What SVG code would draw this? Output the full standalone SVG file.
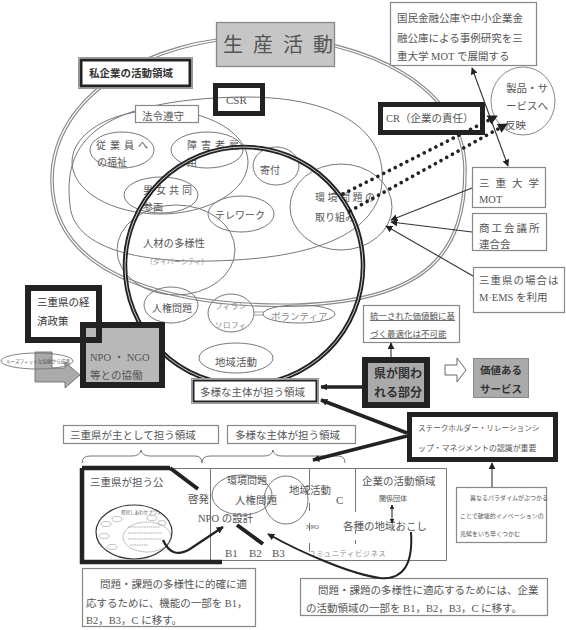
<svg xmlns="http://www.w3.org/2000/svg" width="566" height="630" viewBox="0 0 566 630">
<defs>
<style>
.t{font-family:"Liberation Serif","Noto Sans CJK JP",sans-serif;fill:#555;font-size:10.5px}
.d{fill:#333}
.b{font-weight:bold}
.g{fill:#888}
.box{fill:#fff;stroke:#888;stroke-width:1.2}
.thk{fill:#fff;stroke:#222;stroke-width:5}
.el{fill:none;stroke:#777;stroke-width:1}
.ln{fill:none;stroke:#333;stroke-width:1.1}
.hv{fill:none;stroke:#222;stroke-width:3.5}
.dot{fill:none;stroke:#222;stroke-width:3.6;stroke-dasharray:0.1 6.4;stroke-linecap:round}
</style>
<marker id="ah" viewBox="0 0 10 10" refX="9" refY="5" markerWidth="7" markerHeight="7" markerUnits="userSpaceOnUse" orient="auto-start-reverse"><path d="M0,0 L10,5 L0,10 Z" fill="#222"/></marker>
<marker id="ahd" viewBox="0 0 10 10" refX="9" refY="5" markerWidth="10" markerHeight="10" markerUnits="userSpaceOnUse" orient="auto"><path d="M0,0 L10,5 L0,10 Z" fill="#222"/></marker>
<marker id="ahb" viewBox="0 0 10 10" refX="9" refY="5" markerWidth="4" markerHeight="4" orient="auto-start-reverse"><path d="M0,0 L10,5 L0,10 Z" fill="#222"/></marker>
</defs>
<rect width="566" height="630" fill="#fff"/>

<g id="regions">
<path d="M52,180 C52,95 150,38 258,37 C370,37 465,90 465,170 C465,250 430,300 300,305 C180,308 52,280 52,180 Z" fill="none" stroke="#888" stroke-width="3.6"/>
<path d="M52,180 C52,95 150,38 258,37 C370,37 465,90 465,170 C465,250 430,300 300,305 C180,308 52,280 52,180 Z" fill="none" stroke="#fff" stroke-width="1.3"/>
<path class="el" d="M70,205 C62,140 100,100 240,97 C330,96 378,125 382,170 C386,215 350,248 260,258 C160,268 74,255 70,205 Z"/>
<ellipse class="el" cx="160" cy="162" rx="88" ry="52"/>
</g>

<g id="n-welfare"><ellipse class="el" cx="122" cy="150" rx="32" ry="18"/><text class="t" x="96" y="149" letter-spacing="4" style="font-size:10px">従業員へ</text><text class="t" x="97" y="166" style="font-size:10px">の福祉</text></g>
<g id="n-disabled"><ellipse class="el" cx="207" cy="150" rx="36" ry="18"/><text class="t" x="187" y="149" letter-spacing="4" style="font-size:10px">障害者雇</text><text class="t" x="187" y="166" style="font-size:10px">用</text></g>
<g id="n-donation"><ellipse class="el" cx="276" cy="166" rx="23" ry="19"/><text class="t" x="260" y="174" style="font-size:10px">寄付</text></g>
<g id="n-gender"><ellipse class="el" cx="161" cy="195" rx="37" ry="18"/><text class="t" x="143" y="194" letter-spacing="3" style="font-size:10px">男女共同</text><text class="t" x="143" y="211" style="font-size:10px">参画</text></g>
<g id="n-telework"><ellipse class="el" cx="241" cy="214" rx="33" ry="18"/><text class="t" x="215" y="219" style="font-size:10px">テレワーク</text></g>
<g id="n-env"><ellipse class="el" cx="341" cy="207" rx="51" ry="43"/><text class="t" x="315" y="201" letter-spacing="2.5" style="font-size:10px">環境問題の</text><text class="t" x="315" y="221" style="font-size:10px">取り組み</text></g>
<g id="n-diversity"><ellipse class="el" cx="176" cy="250" rx="59" ry="45"/><text class="t" x="143" y="247" style="font-size:10.3px">人材の多様性</text><text class="t g" x="146" y="264" style="font-size:7px">（ダイバーシティ）</text></g>
<g id="n-human"><ellipse class="el" cx="171" cy="305" rx="27" ry="18"/><text class="t" x="152" y="312" style="font-size:10px">人権問題</text></g>
<g id="n-phil"><ellipse class="el" cx="231" cy="313" rx="23" ry="19"/><text class="t g" x="215" y="309" letter-spacing="0.5" style="font-size:7.5px">フィラン</text><text class="t g" x="215" y="328" letter-spacing="0.5" style="font-size:7.5px">ソロフィ</text></g>
<g id="n-vol"><path d="M253,312 L264,312 M253,315 L264,315" stroke="#888" stroke-width="0.8"/><ellipse class="el" cx="299" cy="314" rx="36" ry="9"/><text class="t g" x="271" y="320" style="font-size:9.5px">ボランティア</text></g>
<g id="n-local"><ellipse class="el" cx="236" cy="358" rx="37" ry="15"/><text class="t" x="215" y="366">地域活動</text></g>

<g id="n-circle">
<circle cx="244" cy="266" r="119" fill="none" stroke="#222" stroke-width="4.5"/>
<circle cx="244" cy="266" r="119" fill="none" stroke="#ccc" stroke-width="1"/>
</g>

<g id="n-production"><rect x="216.5" y="22.5" width="118" height="44" fill="#c6c6c6" stroke="#888" stroke-width="1.3"/><text class="t" x="223" y="52" letter-spacing="10" style="font-size:20px">生産活動</text></g>
<g id="n-private"><rect x="78.5" y="57.5" width="114" height="31" fill="#fff" stroke="#999" stroke-width="1"/><rect x="81" y="60" width="109" height="26" fill="none" stroke="#222" stroke-width="3"/><text class="t d b" x="89" y="77">私企業の活動領域</text></g>
<g id="n-csr"><rect x="215.5" y="85.5" width="47" height="28" fill="none" stroke="#222" stroke-width="5"/><text class="t" x="226" y="104" style="font-size:11px">CSR</text></g>
<g id="n-law"><rect x="135.5" y="105.5" width="63" height="17" class="box"/><text class="t" x="142" y="120">法令遵守</text></g>

<g id="n-kokumin"><rect x="390.5" y="2.5" width="146" height="63" class="box"/><text class="t" x="397" y="22">国民金融公庫や中小企業金</text><text class="t" x="397" y="42">融公庫による事例研究を三</text><text class="t" x="397" y="60">重大学 MOT で展開する</text></g>
<g id="n-product"><ellipse cx="523" cy="101" rx="32" ry="34" fill="#fff" stroke="#888" stroke-width="1"/><text class="t" x="506" y="92">製品・サ</text><text class="t" x="506" y="110">ービスへ</text><text class="t" x="505" y="129">反映</text></g>
<g id="n-cr"><rect x="380.5" y="104.5" width="102" height="28" class="thk"/><text class="t" x="386" y="122">CR（企業の責任）</text></g>
<g id="n-mot"><rect x="472.5" y="167.5" width="73" height="40" class="box"/><text class="t" x="479" y="187" letter-spacing="6">三重大学</text><text class="t" x="479" y="203">MOT</text></g>
<g id="n-shoko"><rect x="472.5" y="213.5" width="74" height="37" class="box"/><text class="t" x="479" y="232" letter-spacing="2">商工会議所</text><text class="t" x="479" y="248">連合会</text></g>
<g id="n-mems"><rect x="473.5" y="267.5" width="91" height="45" class="box"/><text class="t" x="479" y="284" letter-spacing="1">三重県の場合は</text><text class="t" x="479" y="301">M·EMS を利用</text></g>

<g id="n-unified"><rect x="363.5" y="305.5" width="96" height="37" class="box"/><text class="t" x="370" y="319" text-decoration="underline" style="font-size:8.5px">統一された価値観に基</text><text class="t" x="370" y="337" text-decoration="underline" style="font-size:8.5px">づく最適化は不可能</text></g>
<g id="n-pref"><rect x="365" y="360" width="62" height="45" fill="#aaa" stroke="#222" stroke-width="6"/><text class="t d b" x="374" y="378" style="font-size:12px">県が関わ</text><text class="t d b" x="374" y="397" style="font-size:12px">れる部分</text></g>
<g id="n-hollow"><path d="M445,365 L457,365 L457,358 L466,370 L457,382 L457,375 L445,375 Z" fill="#fff" stroke="#666" stroke-width="1"/></g>
<g id="n-value"><rect x="473.5" y="358.5" width="55" height="39" fill="#aaa" stroke="#888" stroke-width="1"/><text class="t d b" x="480" y="374">価値ある</text><text class="t d b" x="480" y="393">サービス</text></g>
<g id="n-stake"><rect x="409.5" y="414.5" width="146" height="45" class="thk"/><text class="t" x="418" y="431" style="font-size:7.6px">ステークホルダー・リレーションシ</text><text class="t" x="418" y="451" style="font-size:7.9px">ップ・マネジメントの認識が重要</text></g>
<g id="n-paradigm"><rect x="456.5" y="487.5" width="90" height="55" class="box"/><text class="t" x="470" y="500" style="font-size:6px">異なるパラダイムがぶつかる</text><text class="t" x="460" y="518" style="font-size:6px">ことで破壊的イノベーションの</text><text class="t" x="460" y="536" style="font-size:6px">兆候をいち早くつかむ</text></g>

<g id="n-miepolicy"><rect x="28" y="288" width="71" height="52" fill="#fff" stroke="#222" stroke-width="6"/></g>
<g id="n-npo"><rect x="83" y="325" width="79" height="60" fill="#b8b8b8" stroke="#222" stroke-width="6"/><rect x="28" y="288" width="71" height="52" fill="none" stroke="#222" stroke-width="6"/><text class="t d" x="37" y="306">三重県の経</text><text class="t d" x="37" y="325">済政策</text><text class="t" x="90" y="361">NPO ・ NGO</text><text class="t" x="90" y="379">等との協働</text></g>
<g id="n-loose"><path d="M35,352 L52,352 L52,368 L65,368 L65,362 L80,375 L65,388 L65,382 L35,382 Z" fill="#aaa" stroke="#666" stroke-width="0.8"/><ellipse cx="37" cy="361" rx="36" ry="8" fill="none" stroke="#777" stroke-width="0.9"/><text class="t" x="6" y="363" style="font-size:4.6px">ルーズフィットな協働から成果</text></g>
<g id="n-diverse1"><rect x="191.5" y="378.5" width="127" height="25" fill="#fff" stroke="#999" stroke-width="1"/><rect x="193.5" y="380.5" width="123" height="21" fill="none" stroke="#222" stroke-width="2"/><text class="t" x="200" y="396">多様な主体が担う領域</text></g>

<g id="n-mielabel"><rect x="63.5" y="425.5" width="155" height="18" class="box"/><text class="t" x="70" y="439">三重県が主として担う領域</text></g>
<g id="n-diverse2"><rect x="227.5" y="425.5" width="128" height="18" class="box"/><text class="t" x="235" y="439">多様な主体が担う領域</text></g>
<g id="braces">
<path d="M82,463 Q82,456 90,456 L132,456 Q140,456 141,450 Q142,456 150,456 L195,456 Q202,456 202,463" fill="none" stroke="#777" stroke-width="1"/>
<path d="M202,463 Q202,456 210,456 L264,456 Q272,456 273,450 Q274,456 282,456 L338,456 Q345,456 345,463" fill="none" stroke="#777" stroke-width="1"/>
</g>

<g id="n-table">
<path d="M170,468.5 L446.5,468.5 L446.5,560.5 L220,560.5" fill="none" stroke="#777" stroke-width="1"/>
<path d="M210.5,468 L210.5,560" stroke="#777" stroke-width="1"/>
<path d="M309.5,468 L309.5,490" stroke="#777" stroke-width="1"/>
<path d="M309.5,503 L309.5,555" stroke="#777" stroke-width="1" stroke-dasharray="8 12"/>
<path d="M355.5,468 L355.5,512" stroke="#777" stroke-width="1"/>
<path d="M355.5,530 L355.5,545" stroke="#777" stroke-width="1" stroke-dasharray="4 6"/>
<path d="M82,468 L170,468 M82,468 L82,562 L222,562" fill="none" stroke="#222" stroke-width="4.5"/>
<path d="M170,468 L198,489 M237,525 L263,544" fill="none" stroke="#222" stroke-width="4"/>
<ellipse cx="242" cy="495" rx="30" ry="20" fill="none" stroke="#777" stroke-width="1"/>
<ellipse cx="286" cy="500" rx="22" ry="24" fill="none" stroke="#777" stroke-width="1"/>
<text class="t" x="90" y="486">三重県が担う公</text>
<text class="t" x="188" y="503">啓発</text>
<text class="t" x="227" y="484" style="font-size:10px">環境問題</text>
<text class="t" x="235" y="504">人権問題</text>
<text class="t" x="198" y="522">NPO の設計</text>
<text class="t" x="289" y="494">地域活動</text>
<text class="t" x="336" y="504" style="font-size:11px">C</text>
<text class="t" x="306" y="529" style="font-size:6.5px">NPO</text>
<text class="t" x="343" y="530">各種の地域おこし</text>
<text class="t" x="379" y="501" style="font-size:7px">関係団体</text>
<text class="t" x="362" y="485">企業の活動領域</text>
<text class="t g" x="308" y="556" letter-spacing="0.7" style="font-size:7.2px">コミュニティビジネス</text>
<text class="t" x="225" y="557" style="font-size:11px">B1</text>
<text class="t" x="249" y="557" style="font-size:11px">B2</text>
<text class="t" x="272" y="557" style="font-size:11px">B3</text>
</g>

<g id="n-plan">
<ellipse cx="134" cy="532" rx="38" ry="27" fill="#fff" stroke="#333" stroke-width="1.2"/>
<text class="t" x="121" y="514" style="font-size:4.5px">県民しあわせプラン</text>
<g fill="none" stroke="#999" stroke-width="0.6">
<ellipse cx="106" cy="524" rx="5" ry="2.5"/><ellipse cx="117" cy="519" rx="5" ry="2.5"/><ellipse cx="152" cy="518" rx="5" ry="2.5"/><ellipse cx="162" cy="523" rx="4" ry="2.5"/><ellipse cx="104" cy="536" rx="5" ry="2.5"/><ellipse cx="112" cy="547" rx="5" ry="2.5"/>
<ellipse cx="147" cy="537" rx="24" ry="15"/>
</g>
<g stroke="#aaa" stroke-width="1.2" stroke-dasharray="1.5 0.8">
<path d="M128,527 L160,527 M128,533 L162,533 M128,539 L161,539 M130,545 L148,545"/>
</g>
</g>

<g id="n-note1"><rect x="82.5" y="568.5" width="173" height="58" class="box"/><text class="t" x="100" y="588">問題・課題の多様性に的確に適</text><text class="t" x="86" y="607">応するために、機能の一部を B1，</text><text class="t" x="86" y="624">B2，B3，C に移す。</text></g>
<g id="n-note2"><rect x="300.5" y="578.5" width="247" height="37" class="box"/><text class="t" x="318" y="594">問題・課題の多様性に適応するためには、企業</text><text class="t" x="306" y="612">の活動領域の一部を B1，B2，B3，C に移す。</text></g>

<g id="connectors">
<line class="hv" x1="362" y1="387" x2="321" y2="387" stroke-width="3" marker-end="url(#ah)"/>
<line class="ln" x1="391" y1="357" x2="391" y2="343" marker-end="url(#ah)"/>
<line class="hv" x1="407" y1="433" x2="321" y2="400" marker-end="url(#ah)"/>
<line class="hv" x1="407" y1="436" x2="313" y2="460" marker-end="url(#ah)"/>
<line class="ln" x1="492" y1="487" x2="492" y2="463" marker-end="url(#ah)"/>
<line class="ln" x1="472" y1="68" x2="508" y2="166" marker-start="url(#ah)" marker-end="url(#ah)"/>
<line class="dot" x1="343" y1="194" x2="497" y2="116" marker-end="url(#ahd)"/>
<line class="dot" x1="350" y1="211" x2="507" y2="124" marker-end="url(#ahd)"/>
<line class="ln" x1="472" y1="188" x2="391" y2="220" marker-end="url(#ah)"/>
<line class="ln" x1="472" y1="232" x2="391" y2="222" marker-end="url(#ah)"/>
<line class="ln" x1="473" y1="276" x2="386" y2="226" marker-end="url(#ah)"/>
<line class="ln" x1="392" y1="505" x2="392" y2="523" stroke-width="0.9" marker-start="url(#ahb)" marker-end="url(#ahb)"/>
<path d="M163,540 Q172,560 190,549 L223,527" fill="none" stroke="#222" stroke-width="2.3" marker-end="url(#ah)"/>
<path d="M411,532 C413,562 405,580 380,578 C350,574 300,552 268,534" fill="none" stroke="#222" stroke-width="2" marker-end="url(#ah)"/>
</g>
</svg>
